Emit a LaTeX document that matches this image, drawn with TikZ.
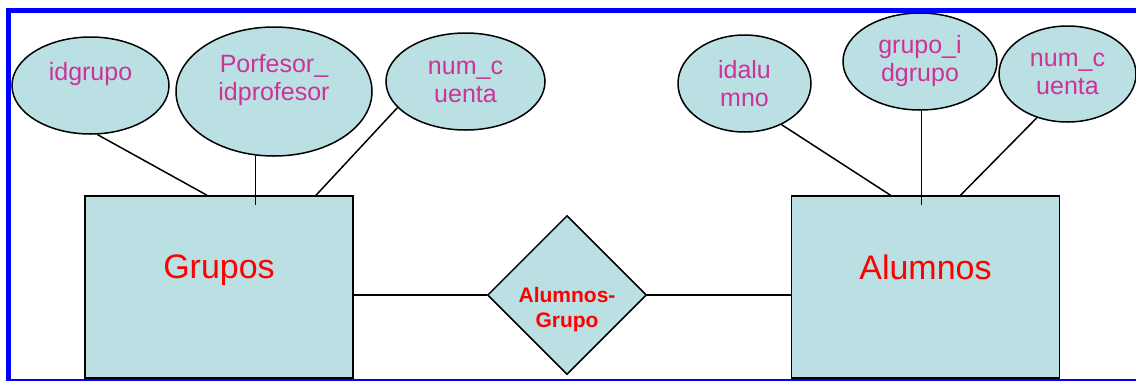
\documentclass[tikz,border=0pt]{standalone}
\usepackage{fontspec}
\setmainfont{Liberation Sans}
\usepackage{xcolor}
\usetikzlibrary{shapes.geometric,positioning}
\definecolor{erfill}{RGB}{187,224,227}
\definecolor{attrpink}{RGB}{204,51,153}

\begin{document}
\begin{tikzpicture}[
    x=1pt, y=-1pt,
    attr/.style={ellipse, draw, line width=1.5pt, fill=erfill, inner sep=0pt, align=center, text=attrpink, font=\fontsize{25}{28}\selectfont},
    entity/.style={rectangle, draw, line width=1.5pt, fill=erfill, inner sep=0pt, minimum width=268pt, minimum height=182pt, align=center, text=red, font=\fontsize{34}{40}\selectfont},
    relship/.style={diamond, draw, line width=1.5pt, fill=erfill, inner sep=0pt, minimum width=159pt, minimum height=159pt},
    reltext/.style={align=center, text=red, font=\bfseries\fontsize{21}{25}\selectfont},
    link/.style={line width=1.5pt},
    frame/.style={draw=blue, line width=5pt}
]
\useasboundingbox (0,0) rectangle (1136,381);
% Entities and relationship
\node[entity] (grupos) at (219,287) {Grupos\\\mbox{}};
\node[entity] (alumnos) at (925.5,287) {Alumnos\\\mbox{}};
\node[relship, label={[reltext, yshift=-15pt]center:{Alumnos-\\Grupo}}] (rel) at (567,295) {};
% Attributes of Grupos
\node[attr, minimum width=157pt, minimum height=97pt] (idgrupo) at (90.5,85.5) {idgrupo\\\mbox{}};
\node[attr, minimum width=196pt, minimum height=129pt] (profesor) at (274,91.5) {Porfesor\_\\idprofesor\\\mbox{}};
\node[attr, minimum width=159pt, minimum height=97pt] (cuentag) at (465.5,81.5) {num\_c\\uenta};
% Attributes of Alumnos
\node[attr, minimum width=133pt, minimum height=97pt] (idalumno) at (744.5,83.5) {idalu\\mno};
\node[attr, minimum width=154pt, minimum height=97pt] (grupoid) at (920,61.5) {grupo\_i\\dgrupo};
\node[attr, minimum width=137pt, minimum height=96pt] (cuentaa) at (1067.5,74) {num\_c\\uenta};
% Links to Grupos
\draw[link] (idgrupo.278) -- ([xshift=-12pt]grupos.north);
\draw[link] (profesor.254) -- ([yshift=-10pt]profesor.254 |- grupos.north);
\draw[link] (cuentag.201) -- ([xshift=97pt]grupos.north);
% Links to Alumnos
\draw[link] (idalumno.312) -- ([xshift=-35pt]alumnos.north);
\draw[link] (grupoid.272) -- ([yshift=-10pt]grupoid.272 |- alumnos.north);
\draw[link] (cuentaa.235) -- ([xshift=35pt]alumnos.north);
% Relationship links
\draw[link] (rel.west) -- (rel.west -| grupos.east);
\draw[link] (rel.east) -- (rel.east -| alumnos.west);
% Frame
\draw[frame] (6,10.5) -- (1136,10.5);
\draw[frame] (8.5,8) -- (8.5,381);
\draw[draw=blue, line width=2pt] (6,380) -- (1136,380);
\end{tikzpicture}
\end{document}
